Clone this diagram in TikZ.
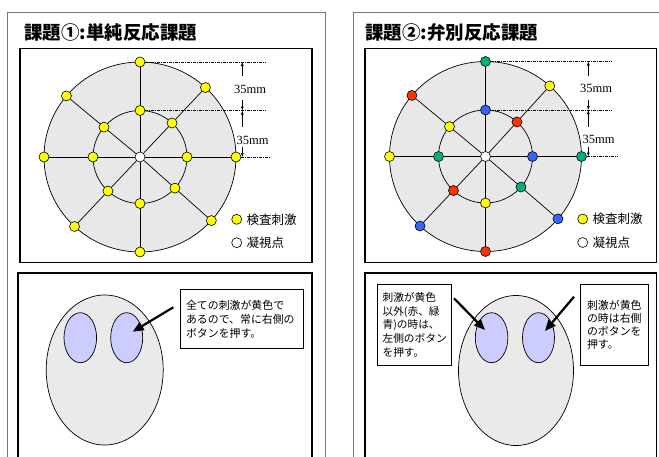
\documentclass[tikz,border=0pt]{standalone}
\usepackage{fontspec}
\setmainfont{Liberation Serif}
\newfontfamily\jp{Noto Sans CJK JP}
\usetikzlibrary{arrows.meta,calc}
\pgfdeclarelayer{bg}
\pgfsetlayers{bg,main}
\definecolor{dyel}{RGB}{255,255,0}
\definecolor{dgrn}{RGB}{0,176,128}
\definecolor{dblu}{RGB}{51,102,255}
\definecolor{dred}{RGB}{255,51,0}
\definecolor{diskgray}{RGB}{232,232,232}
\definecolor{facegray}{RGB}{234,234,234}
\definecolor{eyeblue}{RGB}{204,204,255}
\definecolor{panelgray}{RGB}{120,120,120}
\tikzset{
  panel/.style={draw=panelgray, line width=0.8pt},
  boxframe/.style={draw=black, line width=1.8pt},
  dot/.style={circle, draw=black, line width=0.6pt, minimum size=10pt, inner sep=0pt},
  spoke/.style={draw=black, line width=0.7pt},
  ring/.style={draw=black, line width=0.7pt},
  dimline/.style={line width=0.6pt, dash pattern=on 3pt off 1pt on 1pt off 1pt},
  dimarrow/.style={line width=0.6pt, -{Latex[length=4pt,width=3pt]}},
  mmtext/.style={font=\fontsize{12.5}{14}\selectfont, inner sep=0pt},
  ttl/.style={font=\jp\bfseries\fontsize{18.5}{20}\selectfont, inner sep=0pt, anchor=west},
  legendtext/.style={font=\jp\fontsize{12.5}{14}\selectfont, inner sep=0pt, anchor=west},
  note/.style={draw=black, line width=0.7pt, align=left, anchor=north west, inner ysep=0pt},
  facestyle/.style={draw=black, line width=0.7pt, fill=facegray},
  eyestyle/.style={draw=black, line width=0.7pt, fill=eyeblue},
  bigarrow/.style={line width=2.2pt, -{Triangle[length=11pt,width=9pt]}},
}
\newcommand\stimdisk[4]{% #1 prefix, #2 x, #3 y, #4 list
  \coordinate (#1ctr) at (#2,#3);
  \node[dot, fill=white] (#1c) at (#1ctr) {};
  \foreach \i/\a/\oc/\ic in {#4} {
    \node[dot, fill=\oc] (#1o\i) at ([shift={({-(\a)}:96 and 95)}]#1ctr) {};
    \node[dot, fill=\ic] (#1i\i) at ([shift={({-(\a)}:47 and 46.5)}]#1ctr) {};
  }
  \begin{pgfonlayer}{bg}
    \draw[ring, fill=diskgray] (#1ctr) ellipse [x radius=96, y radius=95];
    \draw[ring] (#1ctr) ellipse [x radius=47, y radius=46.5];
    \foreach \i in {1,...,8} { \draw[spoke] (#1c) -- (#1o\i); }
  \end{pgfonlayer}
}
\begin{document}
\begin{tikzpicture}[x=1pt,y=-1pt]
\useasboundingbox (0,0) rectangle (659,456);

% outer panels
\draw[panel] (7,12.5) rectangle (325,470);
\draw[panel] (353.5,12.5) rectangle (663,470);

% titles
\node[ttl] (t1) at (24,32.5) {課題①:単純反応課題};
\node[ttl] (t2) at (365,32.5) {課題②:弁別反応課題};

% inner boxes
\draw[boxframe] (20,48.5) rectangle (312,262.5);
\draw[boxframe] (18,273) rectangle (312,470);
\draw[boxframe] (365,48.5) rectangle (656.5,262.5);
\draw[boxframe] (365,273) rectangle (656.5,470);

% ---------- left disk ----------
\stimdisk{L}{140}{157}{1/90/dyel/dyel, 2/47/dyel/dyel, 3/0/dyel/dyel, 4/-42/dyel/dyel, 5/-90/dyel/dyel, 6/-133/dyel/dyel, 7/180/dyel/dyel, 8/140/dyel/dyel}

% dimension lines left
\coordinate (Ld1) at (266,62);
\coordinate (Ld2) at (266,110.5);
\coordinate (Ld3) at (271,157);
\draw[dimline] (Lo1.east) -- (Ld1);
\draw[dimline] (Li1.east) -- (Ld2);
\draw[dimline] (Lo3.east) -- (Ld3);
\coordinate (La1) at (242.3,76);  \coordinate (La1t) at (242.3,62);
\coordinate (La2) at (242.3,100); \coordinate (La2t) at (242.3,110.5);
\coordinate (La3) at (242.3,127); \coordinate (La3t) at (242.3,110.5);
\coordinate (La4) at (242.3,147); \coordinate (La4t) at (242.3,157);
\draw[dimarrow] (La1) -- (La1t);
\draw[dimarrow] (La2) -- (La2t);
\draw[dimarrow] (La3) -- (La3t);
\draw[dimarrow] (La4) -- (La4t);
\node[mmtext] (Lm1) at (250,89) {35mm};
\node[mmtext] (Lm2) at (252.5,140) {35mm};

% legend left
\node[dot, fill=dyel] (Lk1) at (236.7,219.3) {};
\node[legendtext] (Lk1t) at (246.5,219.3) {検査刺激};
\node[dot, fill=white] (Lk2) at (236.7,242.7) {};
\node[legendtext] (Lk2t) at (246.5,242.7) {凝視点};

% ---------- right disk ----------
\stimdisk{R}{485.5}{156.5}{1/90/dgrn/dblu, 2/48/dyel/dred, 3/0/dgrn/dblu, 4/-41/dblu/dgrn, 5/-90/dred/dyel, 6/-133/dblu/dred, 7/180/dyel/dgrn, 8/140/dred/dyel}

\coordinate (Rd1) at (612,61.5);
\coordinate (Rd2) at (612,110);
\coordinate (Rd3) at (617,156.5);
\draw[dimline] (Ro1.east) -- (Rd1);
\draw[dimline] (Ri1.east) -- (Rd2);
\draw[dimline] (Ro3.east) -- (Rd3);
\coordinate (Ra1) at (588.3,75.5);  \coordinate (Ra1t) at (588.3,61.5);
\coordinate (Ra2) at (588.3,99.5);  \coordinate (Ra2t) at (588.3,110);
\coordinate (Ra3) at (588.3,126.5); \coordinate (Ra3t) at (588.3,110);
\coordinate (Ra4) at (588.3,146.5); \coordinate (Ra4t) at (588.3,156.5);
\draw[dimarrow] (Ra1) -- (Ra1t);
\draw[dimarrow] (Ra2) -- (Ra2t);
\draw[dimarrow] (Ra3) -- (Ra3t);
\draw[dimarrow] (Ra4) -- (Ra4t);
\node[mmtext] (Rm1) at (596,88.5) {35mm};
\node[mmtext] (Rm2) at (598.5,139.5) {35mm};

\node[dot, fill=dyel] (Rk1) at (582.7,219) {};
\node[legendtext] (Rk1t) at (592.5,219) {検査刺激};
\node[dot, fill=white] (Rk2) at (582.7,242.5) {};
\node[legendtext] (Rk2t) at (592.5,242.5) {凝視点};

% ---------- left face ----------
\coordinate (Lface) at (104.7,370);
\draw[facestyle] (Lface) ellipse [x radius=58.5, y radius=75];
\coordinate (Leye1) at (80.3,337.7);
\coordinate (Leye2) at (126.7,337.7);
\draw[eyestyle] (Leye1) ellipse [x radius=16.3, y radius=25];
\draw[eyestyle] (Leye2) ellipse [x radius=16, y radius=25];
\node[note, minimum width=122.7pt, minimum height=59pt, text width=111.3pt, inner xsep=5.7pt,
      font=\jp\fontsize{10.9}{13.7}\selectfont] (Lnote) at (180,289.3)
  {全ての刺激が黄色で\\あるので、常に右側の\\ボタンを押す。};
\coordinate (Larr) at (173.3,307.3);
\coordinate (Ltip) at (132.7,331.7);
\draw[bigarrow] (Larr) -- (Ltip);

% ---------- right face ----------
\coordinate (Rface) at (516,370.5);
\draw[facestyle] (Rface) ellipse [x radius=57.5, y radius=75];
\coordinate (Reye1) at (491.6,337.7);
\coordinate (Reye2) at (538.5,337.7);
\draw[eyestyle] (Reye1) ellipse [x radius=16.3, y radius=25];
\draw[eyestyle] (Reye2) ellipse [x radius=16, y radius=25];
\node[note, minimum width=74pt, minimum height=81pt, text width=63pt, inner xsep=5.5pt,
      font=\jp\fontsize{10.7}{13.7}\selectfont] (RnoteA) at (376.7,284)
  {刺激が黄色\\以外(赤、緑\\青)の時は、\\左側のボタン\\を押す。};
\node[note, minimum width=68.3pt, minimum height=81pt, text width=55pt, inner xsep=6.7pt,
      font=\jp\fontsize{10.9}{13.3}\selectfont] (RnoteB) at (580,284)
  {刺激が黄色\\の時は右側\\のボタンを\\押す。};
\coordinate (RarrA) at (454,298.3);
\coordinate (RtipA) at (485,330);
\draw[bigarrow] (RarrA) -- (RtipA);
\coordinate (RarrB) at (574,296.7);
\coordinate (RtipB) at (545,331);
\draw[bigarrow] (RarrB) -- (RtipB);
\end{tikzpicture}
\end{document}
